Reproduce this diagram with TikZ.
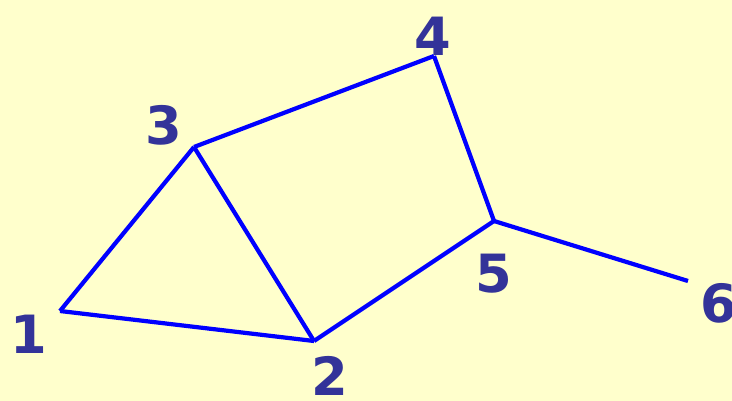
\documentclass[tikz,border=0pt]{standalone}
\usepackage{fontspec}
\setmainfont{DejaVu Sans}
\usepackage{tikz}
\usetikzlibrary{positioning}

\definecolor{paper}{RGB}{255,255,204}
\definecolor{labelblue}{RGB}{51,51,153}

\begin{document}
\begin{tikzpicture}[
        x=0.02cm, y=-0.02cm,
        vertex/.style={inner sep=0pt, minimum size=0pt},
        num/.style={text=labelblue, font=\fontsize{30}{30}\selectfont\bfseries, inner sep=0pt},
        edge/.style={draw=blue, line width=2.4pt}
    ]

    % Background
    \fill[paper] (0,0) rectangle (732,401);
    \useasboundingbox (0,0) rectangle (732,401);

    % Vertices
    \node[vertex] (v1) at (60,311) {};
    \node[vertex] (v2) at (314,341) {};
    \node[vertex] (v3) at (194,147) {};
    \node[vertex] (v4) at (434,56) {};
    \node[vertex] (v5) at (494,221) {};
    \node[vertex] (v6) at (688,281) {};

    % Labels
    \node[num] (l1) at (29,334) {1};
    \node[num] (l2) at (330,376) {2};
    \node[num] (l3) at (164,125) {3};
    \node[num] (l4) at (433,36) {4};
    \node[num] (l5) at (494,274) {5};
    \node[num] (l6) at (719,303) {6};

    % Edges
    \draw[edge] (v1.center) -- (v3.center);
    \draw[edge] (v1.center) -- (v2.center);
    \draw[edge] (v3.center) -- (v2.center);
    \draw[edge] (v3.center) -- (v4.center);
    \draw[edge] (v4.center) -- (v5.center);
    \draw[edge] (v2.center) -- (v5.center);
    \draw[edge] (v5.center) -- (v6.center);

\end{tikzpicture}
\end{document}
